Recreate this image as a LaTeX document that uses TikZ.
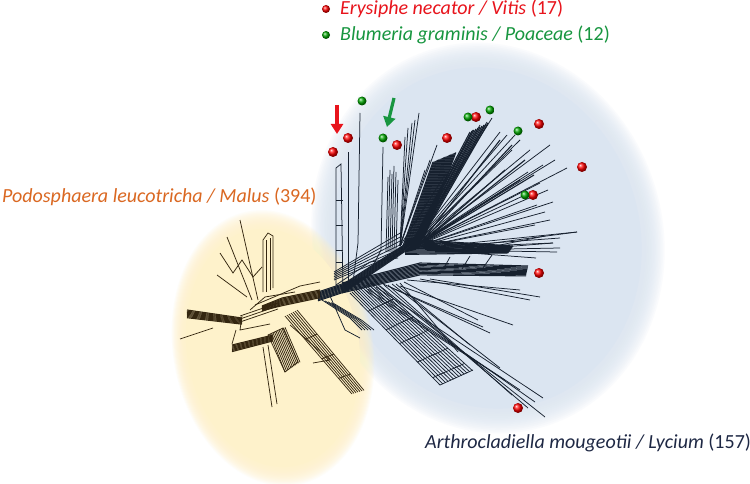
\documentclass[tikz,border=0pt]{standalone}
\usepackage{fontspec}
\setmainfont{Carlito}
\usetikzlibrary{arrows.meta}
\definecolor{navy}{RGB}{22,32,46}
\definecolor{brn}{RGB}{52,38,16}
\definecolor{bluebg}{RGB}{219,229,241}
\definecolor{yelbg}{RGB}{254,242,203}
\definecolor{legred}{RGB}{232,20,28}
\definecolor{leggreen}{RGB}{24,150,64}
\definecolor{orangetxt}{RGB}{218,104,34}
\definecolor{navytxt}{RGB}{30,40,68}
\begin{document}
\begin{tikzpicture}[x=1pt,y=-1pt,
  nb/.style={navy,line width=0.75pt},
  nbd/.style={navy,line width=1.1pt},
  yb/.style={brn,line width=0.75pt},
  ybd/.style={brn,line width=1.1pt},
  reddot/.style={shading=ball, ball color=red},
  grndot/.style={shading=ball, ball color=green!65!black},
  lbl/.style={font=\fontsize{20}{24}\selectfont\itshape, anchor=base west, inner sep=0pt},
  bigarrow/.style={line width=3.2pt, -{Triangle[length=10pt,width=12pt]}}]
\useasboundingbox (0,0) rectangle (750,484);
\fill[white] (0,0) rectangle (750,484);

% ---- blue background ellipse (soft edge)
\begin{scope}[shift={(488,238)}, rotate=16]
  \foreach \s in {1.10,1.09,...,0.97}
    {\fill[bluebg, opacity=0.12] (0,0) ellipse [x radius=159*\s, y radius=179*\s];}
  \fill[bluebg] (0,0) ellipse [x radius=152, y radius=172];
\end{scope}
% ---- yellow background ellipse (soft edge)
\begin{scope}[shift={(273,348)}, rotate=10]
  \foreach \s in {1.11,1.10,...,0.97}
    {\fill[yelbg, opacity=0.13] (0,0) ellipse [x radius=90*\s, y radius=125*\s];}
  \fill[yelbg] (0,0) ellipse [x radius=86, y radius=120];
\end{scope}

% ================= blue network =================
% trunk (dense bundle)
\foreach \d in {0,1.1,...,9}{\draw[nbd] (318,292+\d) -- (345,283+\d) -- (404,245+\d*0.8) -- (416,244+\d*0.6);}
% left vertical group
\draw[nb] (336,292) -- (336,168) -- (341,164) -- (343,292);
\foreach \y in {200,225,250,262}{\draw[nb] (336,\y) -- (343,\y);}
\draw[nb] (348,292) -- (348,152);
\draw[nb] (353,282) -- (358,243) -- (360,113);
\draw[nb] (372,268) -- (381,250) -- (383,147);
\foreach \x/\t in {388/177,390/170,392/174,394/166,396/172,398/180}
  {\draw[nb] (\x-2,252) -- (\x,\t);}
\foreach \d in {0,4,...,20}{\draw[nb] (334,280-\d*0.4) -- (402,252-\d);}
\draw[nb] (336,285) -- (370,262) -- (398,258);
% dense wedges of the fan
\foreach \t in {0,0.05,...,1}{\draw[nbd] (403+22*\t,246-8*\t) -- (433+24*\t,162-10*\t);}
\foreach \t in {0,0.1,...,1}{\draw[nbd] (410+10*\t,246-3*\t) -- (470+20*\t,132-10*\t);}
% fan lines (upper)
\foreach \ex/\ey in {405/137,408/128,412/123,415/120,419/113,425/170,430/160,437/145,445/175}
  {\draw[nb] (400,246) -- (\ex,\ey);}
\foreach \ex/\ey in {473/130,480/125,487/122,492/118,500/132,507/135,515/135,520/140,530/150,550/145,543/165,555/160,567/168,540/183,548/190,553/202,537/205,545/212,550/220,577/232,560/238,553/243,535/225,525/195,512/150,528/172}
  {\draw[nb] (410,249) -- (\ex,\ey);}
\foreach \ex/\ey in {500/140,512/145,525/160,534/175,520/180,505/170}
  {\draw[nbd] (420,244) -- (\ex,\ey);}
% upper band (dense)
\foreach \d in {0,1.1,...,16}{\draw[nbd] (405,239+\d) -- (513-\d*0.3,246+\d*0.45);}
\foreach \sx/\ex/\ey in {440/577/232,455/560/248,465/553/243,475/545/236,430/536/258,445/557/252}
  {\draw[nb] (\sx,250) -- (\ex,\ey);}
\draw[nb] (450,257) -- (444,268); \draw[nb] (470,256) -- (462,269); \draw[nb] (492,255) -- (483,268);
% lower band (dense)
\foreach \d in {0,1.1,...,10.4}{\draw[nbd] (342,283+\d) -- (420,263+\d*1.2) -- (528-\d*0.2,266+\d);}
\foreach \sx/\sy/\ex/\ey in {407/280/520/290, 400/286/513/325, 390/287/490/333, 383/284/483/327, 420/279/530/300, 430/279/540/297}
  {\draw[nb] (\sx,\sy) -- (\ex,\ey);}
% lower ladder
\foreach \k in {0,...,12}{\draw[nb] (350+2*\k,293-\k) -- (440+2.7*\k,385-1.2*\k);}
\foreach \t in {0.2,0.4,0.55,0.75,0.92}{\draw[nb] (350+90*\t,293+92*\t) -- (374+98.4*\t,281+89.6*\t);}
\draw[nb] (440,385) -- (473,370);
% long lower lines
\foreach \sx/\sy/\ex/\ey in {365/290/505/380, 368/289/520/390, 372/288/535/402, 376/287/543/398, 380/286/545/417,
  384/285/528/408, 388/285/512/395, 392/284/500/368, 396/284/470/345, 400/283/458/352, 404/282/478/320}
  {\draw[nb] (\sx,\sy) -- (\ex,\ey);}
% links to the yellow side
\foreach \d in {0,3,...,12}{\draw[nb] (322+\d,300+\d*0.3) -- (350+\d,318+\d*0.2) -- (362+\d,330);}
\draw[nb] (330,296) -- (345,330) -- (360,338);

% ================= yellow network =================
\foreach \d in {0,1.1,...,8.4}{\draw[ybd] (262,306+\d*0.6) -- (282,298+\d) -- (320,290+\d);}
% thick left bar (dense)
\foreach \d in {0,1.1,...,8.4}{\draw[ybd] (187,310+\d) -- (242,318+\d*0.8);}
\draw[yb] (213,328) -- (180,339);
\foreach \d in {0,3,6}{\draw[yb] (240,316+\d) -- (278,303+\d);}
\draw[yb] (242,316) -- (240,330) -- (270,324);
% lower-left thick
\foreach \d in {0,1.1,...,7.2}{\draw[ybd] (232,345+\d) -- (273,335+\d*0.9);}
\draw[yb] (232,344) -- (236,330);
% up branches
\draw[yb] (258,300) -- (240,220);
\draw[yb] (252,300) -- (227,237);
\draw[yb] (220,253) -- (233,273) -- (242,260) -- (253,277) -- (262,267);
\draw[yb] (217,275) -- (247,297);
\draw[yb] (263,292) -- (263,240) -- (268,233) -- (273,236) -- (273,288);
\draw[yb] (266,292) -- (266,240); \draw[yb] (270,290) -- (270,238);
\draw[yb] (255,305) -- (300,286) -- (320,282);
\draw[yb] (250,310) -- (265,297) -- (295,292);
% hatched block below hub
\foreach \d in {0,1.5,...,15}{\draw[yb] (270+\d,334-\d*0.45) -- (285+\d,372-\d*0.65);}
\draw[yb] (268,335) -- (283,328) -- (298,362) -- (285,372) -- cycle;
\draw[yb] (263,347) -- (272,407);
\draw[yb] (268,345) -- (277,404);
% lower-right bundle
\foreach \d in {0,2,...,12}{\draw[yb] (285+\d,316-\d*0.5) -- (352+\d,394-\d*0.3);}
\foreach \t in {0.3,0.55,0.8}{\draw[yb] (285+67*\t,316+78*\t) -- (297+67*\t,310+80*\t);}
\draw[yb] (290,325) -- (330,360) -- (313,363);

% ================= dots =================
\foreach \x/\y in {333/152, 348/138, 397/145, 447/138, 476/117, 539/124,
  582/167, 533/195, 539/273, 518/408}
  {\shade[reddot] (\x,\y) circle [radius=5];}
\foreach \x/\y in {362/101, 383/138, 468/117, 490/110, 518/131, 525/195}
  {\shade[grndot] (\x,\y) circle [radius=4.5];}

% ================= arrows =================
\coordinate (ra) at (337,105);
\coordinate (rb) at (337,134);
\draw[bigarrow, legred] (ra) -- (rb);
\coordinate (ga) at (394,98);
\coordinate (gb) at (387,127);
\draw[bigarrow, leggreen] (ga) -- (gb);

% ================= legend and labels =================
\shade[reddot] (326,9) circle [radius=4];
\node[lbl, text=legred] (ery) at (340,15) {Erysiphe necator / Vitis \textup{(17)}};
\shade[grndot] (326,35) circle [radius=4];
\node[lbl, text=leggreen] (blu) at (340,41) {Blumeria graminis / Poaceae \textup{(12)}};
\node[lbl, text=orangetxt] (pod) at (2,202) {Podosphaera leucotricha / Malus \textup{(394)}};
\node[lbl, text=navytxt] (art) at (425,448) {Arthrocladiella mougeotii / Lycium \textup{(157)}};
\end{tikzpicture}
\end{document}
